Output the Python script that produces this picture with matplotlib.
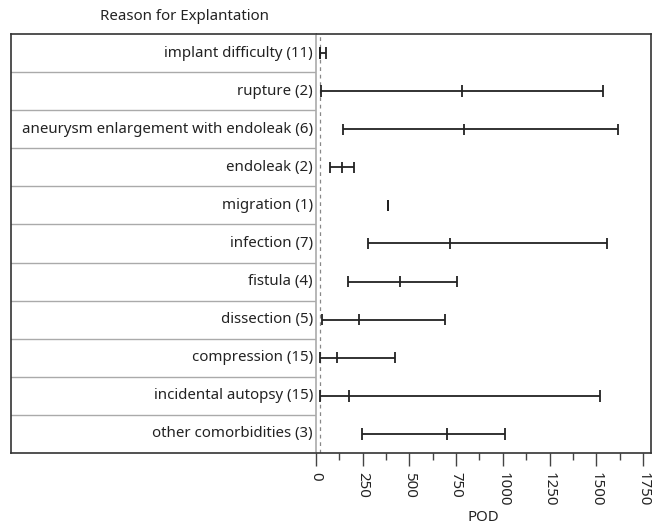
import matplotlib
matplotlib.use("Agg")
import matplotlib.pyplot as plt
from matplotlib.ticker import MultipleLocator

plt.rcParams['font.family'] = ['Noto Sans', 'DejaVu Sans']

# reasons (top to bottom) and POD ranges
reasons = [
    "implant difficulty (11)",
    "rupture (2)",
    "aneurysm enlargement with endoleak (6)",
    "endoleak (2)",
    "migration (1)",
    "infection (7)",
    "fistula (4)",
    "dissection (5)",
    "compression (15)",
    "incidental autopsy (15)",
    "other comorbidities (3)",
]
pod_low = [22, 25, 143, 73, 384, 277, 173, 32, 23, 20, 246]
pod_median = [22, 782, 794, 141, 384, 717, 450, 232, 112, 177, 703]
pod_high = [55, 1538, 1618, 202, 384, 1558, 755, 692, 425, 1522, 1014]
ref_line = 20

W, H = 653, 525
fig = plt.figure(figsize=(W / 100, H / 100), dpi=100)

left, split, right = 11, 316, 651
top, bottom = 34, 453
b = (H - bottom) / H
h = (bottom - top) / H

border = "#333333"
sep = "#aaaaaa"
fs = 10.8

# label column
lab = fig.add_axes([left / W, b, (split - left) / W, h])
lab.set_xlim(0, 1)
lab.set_ylim(len(reasons) - 0.5, -0.5)
lab.set_xticks([])
lab.set_yticks([])
for s in ["left", "top", "bottom"]:
    lab.spines[s].set_color(border)
    lab.spines[s].set_linewidth(1.2)
lab.spines["right"].set_visible(False)
for i in range(len(reasons) - 1):
    lab.axhline(i + 0.5, color=sep, lw=1.0)
for i, r in enumerate(reasons):
    lab.text(0.99, i, r, ha="right", va="center", fontsize=fs, color="#222222")

fig.text(100 / W, 1 - 17 / H, "Reason for Explantation", ha="left", va="center",
         fontsize=fs, color="#222222")

# plot panel
ax = fig.add_axes([split / W, b, (right - split) / W, h])
ax.set_xlim(0, 1793)
ax.set_ylim(len(reasons) - 0.5, -0.5)
ax.set_yticks([])
for s in ["right", "top", "bottom"]:
    ax.spines[s].set_color(border)
    ax.spines[s].set_linewidth(1.2)
ax.spines["left"].set_color(sep)
ax.spines["left"].set_linewidth(1.2)

ax.axvline(ref_line, color="#888888", lw=0.9, ls=(0, (3, 3)))

ys = list(range(len(reasons)))
cap = 0.15
lc = "#222222"
ax.hlines(ys, pod_low, pod_high, color=lc, lw=1.3)
for y, lo, md, hi in zip(ys, pod_low, pod_median, pod_high):
    ax.vlines([lo, md, hi], y - cap, y + cap, color=lc, lw=1.3)

ax.xaxis.set_major_locator(MultipleLocator(250))
ax.xaxis.set_minor_locator(MultipleLocator(125))
ax.tick_params(axis="x", which="major", length=9, width=1.0, color="#444444",
               labelsize=fs, labelcolor="#222222", labelrotation=270, pad=5)
ax.tick_params(axis="x", which="minor", length=5, width=1.0, color="#444444")
for t in ax.get_xticklabels():
    t.set_va("top")
ax.set_xlabel("POD", fontsize=fs, color="#222222", labelpad=2)

fig.savefig("out.png", dpi=100)
